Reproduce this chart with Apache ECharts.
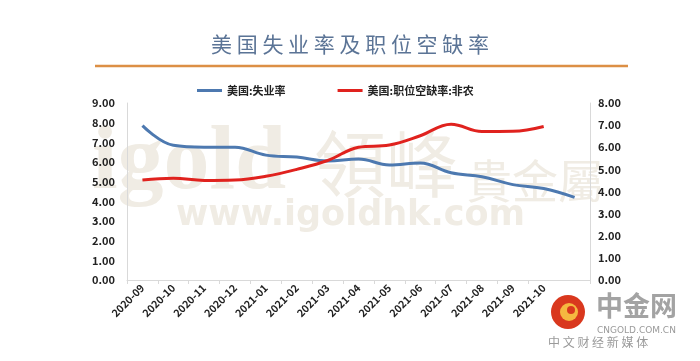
<!DOCTYPE html>
<html><head><meta charset="utf-8">
<script src="https://cdn.jsdelivr.net/npm/echarts@6/dist/echarts.min.js"></script>
<style>html,body{margin:0;padding:0;background:#fff}#c{width:700px;height:361px}</style>
</head><body><div id="c"></div>
<script>
const categories = ['2020-09','2020-10','2020-11','2020-12','2021-01','2021-02','2021-03','2021-04','2021-05','2021-06','2021-07','2021-08','2021-09','2021-10','2021-11'];
const unemployment = [7.85, 6.85, 6.75, 6.75, 6.35, 6.25, 6.05, 6.15, 5.85, 5.95, 5.45, 5.25, 4.85, 4.65, 4.2];
const vacancy = [4.52, 4.6, 4.5, 4.52, 4.69, 5.0, 5.4, 6.0, 6.1, 6.52, 7.04, 6.71, 6.72, 6.94, null];
const seriesNames = ['美国:失业率', '美国:职位空缺率:非农'];
const titleText = '美 国 失 业 率 及 职 位 空 缺 率';

const chart = echarts.init(document.getElementById('c'), null, {renderer: 'canvas'});
const F = '"Noto Sans CJK SC", "Noto Sans", sans-serif';
const WM = '#f0ece4';
chart.setOption({
  backgroundColor: '#fff',
  animation: false,
  title: {
    text: titleText, left: 'center', top: 29,
    textStyle: {fontFamily: F, fontSize: 21, fontWeight: 'normal', color: '#5b7496'}
  },
  legend: {
    left: 192, top: 80, itemWidth: 25, itemHeight: 3, itemGap: 52, icon: 'rect',
    textStyle: {fontFamily: F, fontSize: 11, fontWeight: 'bold', color: '#222'},
    data: seriesNames
  },
  grid: {left: 127, right: 110, top: 103, bottom: 81, containLabel: false},
  xAxis: {
    type: 'category', data: categories, boundaryGap: true,
    axisLine: {lineStyle: {color: '#d9d9d9'}},
    axisTick: {show: true, lineStyle: {color: '#d9d9d9'}, length: 4},
    axisLabel: {rotate: 45, interval: (i) => i < categories.length - 1, fontFamily: F, fontSize: 10.5, fontWeight: 'bold', color: '#222', margin: 6}
  },
  yAxis: [
    {type: 'value', min: 0, max: 9, interval: 1, position: 'left',
     axisLine: {show: true, lineStyle: {color: '#d9d9d9'}}, axisTick: {show: false}, splitLine: {show: false},
     axisLabel: {formatter: v => v.toFixed(2), fontFamily: F, fontSize: 11, fontWeight: 'bold', color: '#222', margin: 12}},
    {type: 'value', min: 0, max: 8, interval: 1, position: 'right',
     axisLine: {show: true, lineStyle: {color: '#d9d9d9'}}, axisTick: {show: false}, splitLine: {show: false},
     axisLabel: {formatter: v => v.toFixed(2), fontFamily: F, fontSize: 11, fontWeight: 'bold', color: '#222', margin: 8}}
  ],
  graphic: [
    {type: 'line', z: 1, shape: {x1: 95, y1: 66, x2: 628, y2: 66}, style: {stroke: '#dc8f45', lineWidth: 2.5}},
    {type: 'text', z: 0, left: 92, top: 118, style: {text: 'igold', font: 'bold 92px "Liberation Serif", serif', fill: WM}},
    {type: 'text', z: 0, left: 314, top: 128, style: {text: '領峰', font: '72px "Noto Sans CJK TC", sans-serif', fill: WM}},
    {type: 'text', z: 0, left: 466, top: 158, style: {text: '貴金屬', font: '46px "Noto Sans CJK TC", sans-serif', fill: WM}},
    {type: 'text', z: 0, left: 176, top: 198, style: {text: 'www.igoldhk.com', font: 'bold 35px "DejaVu Sans", sans-serif', fill: WM}},
    {type: 'circle', z: 101, shape: {cx: 568, cy: 312, r: 17}, style: {fill: '#d9381e'}},
    {type: 'circle', z: 102, shape: {cx: 569, cy: 312, r: 9}, style: {fill: '#f5b840'}},
    {type: 'circle', z: 103, shape: {cx: 571, cy: 310, r: 4}, style: {fill: '#d9381e'}},
    {type: 'text', z: 101, left: 596, top: 292, style: {text: '中金网', font: 'bold 27px "Noto Sans CJK SC", sans-serif', fill: '#a3a3a3'}},
    {type: 'text', z: 101, left: 597, top: 326, style: {text: 'CNGOLD.COM.CN', font: '9px "DejaVu Sans", sans-serif', fill: '#9a9a9a'}},
    {type: 'text', z: 101, left: 548, top: 336, style: {text: '中 文 财 经 新 媒 体', font: '12px "Noto Sans CJK SC", sans-serif', fill: '#9a9a9a'}}
  ],
  series: [
    {name: seriesNames[0], type: 'line', yAxisIndex: 0, data: unemployment, smooth: 0.4, symbol: 'none',
     z: 3, lineStyle: {width: 3, color: '#4d79b0'}, itemStyle: {color: '#4d79b0'}},
    {name: seriesNames[1], type: 'line', yAxisIndex: 1, data: vacancy, smooth: 0.4, symbol: 'none',
     z: 4, lineStyle: {width: 3, color: '#e0221e'}, itemStyle: {color: '#e0221e'}}
  ]
});
</script></body></html>
